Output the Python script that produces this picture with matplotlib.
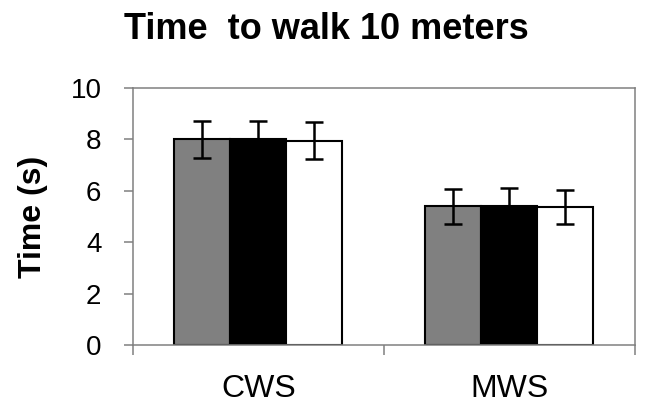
'''Time to walk 10 meters - grouped bar chart'''
import numpy as np
import matplotlib
matplotlib.use("Agg")
import matplotlib.pyplot as plt

# ----------------------------------------------------
# Data
# ----------------------------------------------------
categories = ["CWS", "MWS"]

gray_vals = [8.0, 5.40]
black_vals = [8.0, 5.42]
white_vals = [7.95, 5.38]

gray_err = [0.72, 0.68]
black_err = [0.72, 0.70]
white_err = [0.72, 0.67]

y_ticks = [0, 2, 4, 6, 8, 10]

# ----------------------------------------------------
# Figure
# ----------------------------------------------------
plt.rcParams["font.family"] = ["Liberation Sans", "DejaVu Sans"]

fig = plt.figure(figsize=(6.52, 4.17), dpi=100)
ax = fig.add_axes([0.2035, 0.1727, 0.7705, 0.6163])

x = np.arange(len(categories))
w = 0.223
spine_col = "#808080"

series = [
    (gray_vals, gray_err, "#808080"),
    (black_vals, black_err, "black"),
    (white_vals, white_err, "white"),
]

for i, (vals, errs, col) in enumerate(series):
    ax.bar(
        x + (i - 1) * w, vals, width=w,
        color=col, edgecolor="black", linewidth=1.5,
        yerr=errs, capsize=6.5,
        error_kw=dict(ecolor="black", elinewidth=1.8, capthick=1.8),
        zorder=2,
    )

ax.set_xlim(-0.5, 1.5)
ax.set_ylim(0, 10)
ax.set_yticks(y_ticks)
ax.set_yticklabels([str(t) for t in y_ticks])

ax.set_xticks(x)
ax.set_xticklabels(categories)
ax.set_xticks([-0.5, 0.5, 1.5], minor=True)

for s in ax.spines.values():
    s.set_color(spine_col)
    s.set_linewidth(1.1)

ax.tick_params(axis="y", direction="out", length=6.5, width=1.1,
               color=spine_col, labelsize=20, pad=16)
ax.tick_params(axis="x", which="major", length=0, labelsize=23, pad=21)
ax.tick_params(axis="x", which="minor", direction="out", length=7,
               width=1.1, color=spine_col)

fig.text(0.5, 0.906, "Time  to walk 10 meters", ha="center",
         va="baseline", fontsize=26, fontweight="bold")
fig.text(0.05, 0.1727 + 0.6163 / 2, "Time (s)", rotation=90,
         ha="center", va="center", fontsize=23, fontweight="bold")

fig.savefig("out.png", dpi=100)
